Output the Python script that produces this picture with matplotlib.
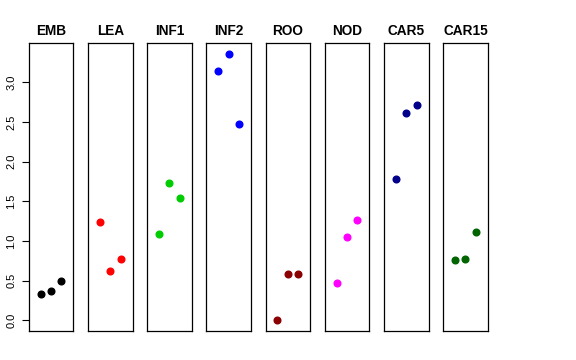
import matplotlib
matplotlib.use("Agg")
import matplotlib.pyplot as plt

# groups and their three values each (x = 1, 2, 3)
groups = ["EMB", "LEA", "INF1", "INF2", "ROO", "NOD", "CAR5", "CAR15"]
emb = [0.33, 0.37, 0.49]
lea = [1.24, 0.62, 0.78]
inf1 = [1.09, 1.73, 1.54]
inf2 = [3.14, 3.36, 2.48]
roo = [0.00, 0.59, 0.59]
nod = [0.47, 1.05, 1.26]
car5 = [1.78, 2.61, 2.71]
car15 = [0.76, 0.77, 1.11]
values = [emb, lea, inf1, inf2, roo, nod, car5, car15]
colors = ["black", "#FF0000", "#00CD00", "#0000FF", "#8B0000",
          "#FF00FF", "#00008B", "#006400"]
xs = [1, 2, 3]
yticks = [0.0, 0.5, 1.0, 1.5, 2.0, 2.5, 3.0]

plt.rcParams["font.family"] = ["Liberation Sans", "DejaVu Sans"]

W, H = 576, 360
fig = plt.figure(figsize=(W / 100, H / 100), dpi=100)

ymin = min(min(v) for v in values)
ymax = max(max(v) for v in values)
pad = 0.04 * (ymax - ymin)

left0, step, width = 28.7, 59.2, 44.6
top, bottom = 43.3, 331.0
for i, (name, vals, col) in enumerate(zip(groups, values, colors)):
    ax = fig.add_axes([(left0 + i * step) / W, (H - bottom) / H,
                       width / W, (bottom - top) / H])
    ax.plot(xs, vals, "o", color=col, markersize=4.8, linestyle="none")
    ax.set_xlim(-0.16, 4.16)
    ax.set_ylim(ymin - pad, ymax + pad)
    ax.set_xticks([])
    ax.set_title(name, fontsize=9.8, fontweight="bold", pad=6)
    for s in ax.spines.values():
        s.set_linewidth(0.9)
    if i == 0:
        ax.set_yticks(yticks)
        ax.set_yticklabels([f"{t:.1f}" for t in yticks], rotation=90,
                           va="center", fontsize=8)
        ax.tick_params(axis="y", length=5, width=0.8, pad=4)
    else:
        ax.set_yticks([])

fig.savefig("out.png", dpi=100)
